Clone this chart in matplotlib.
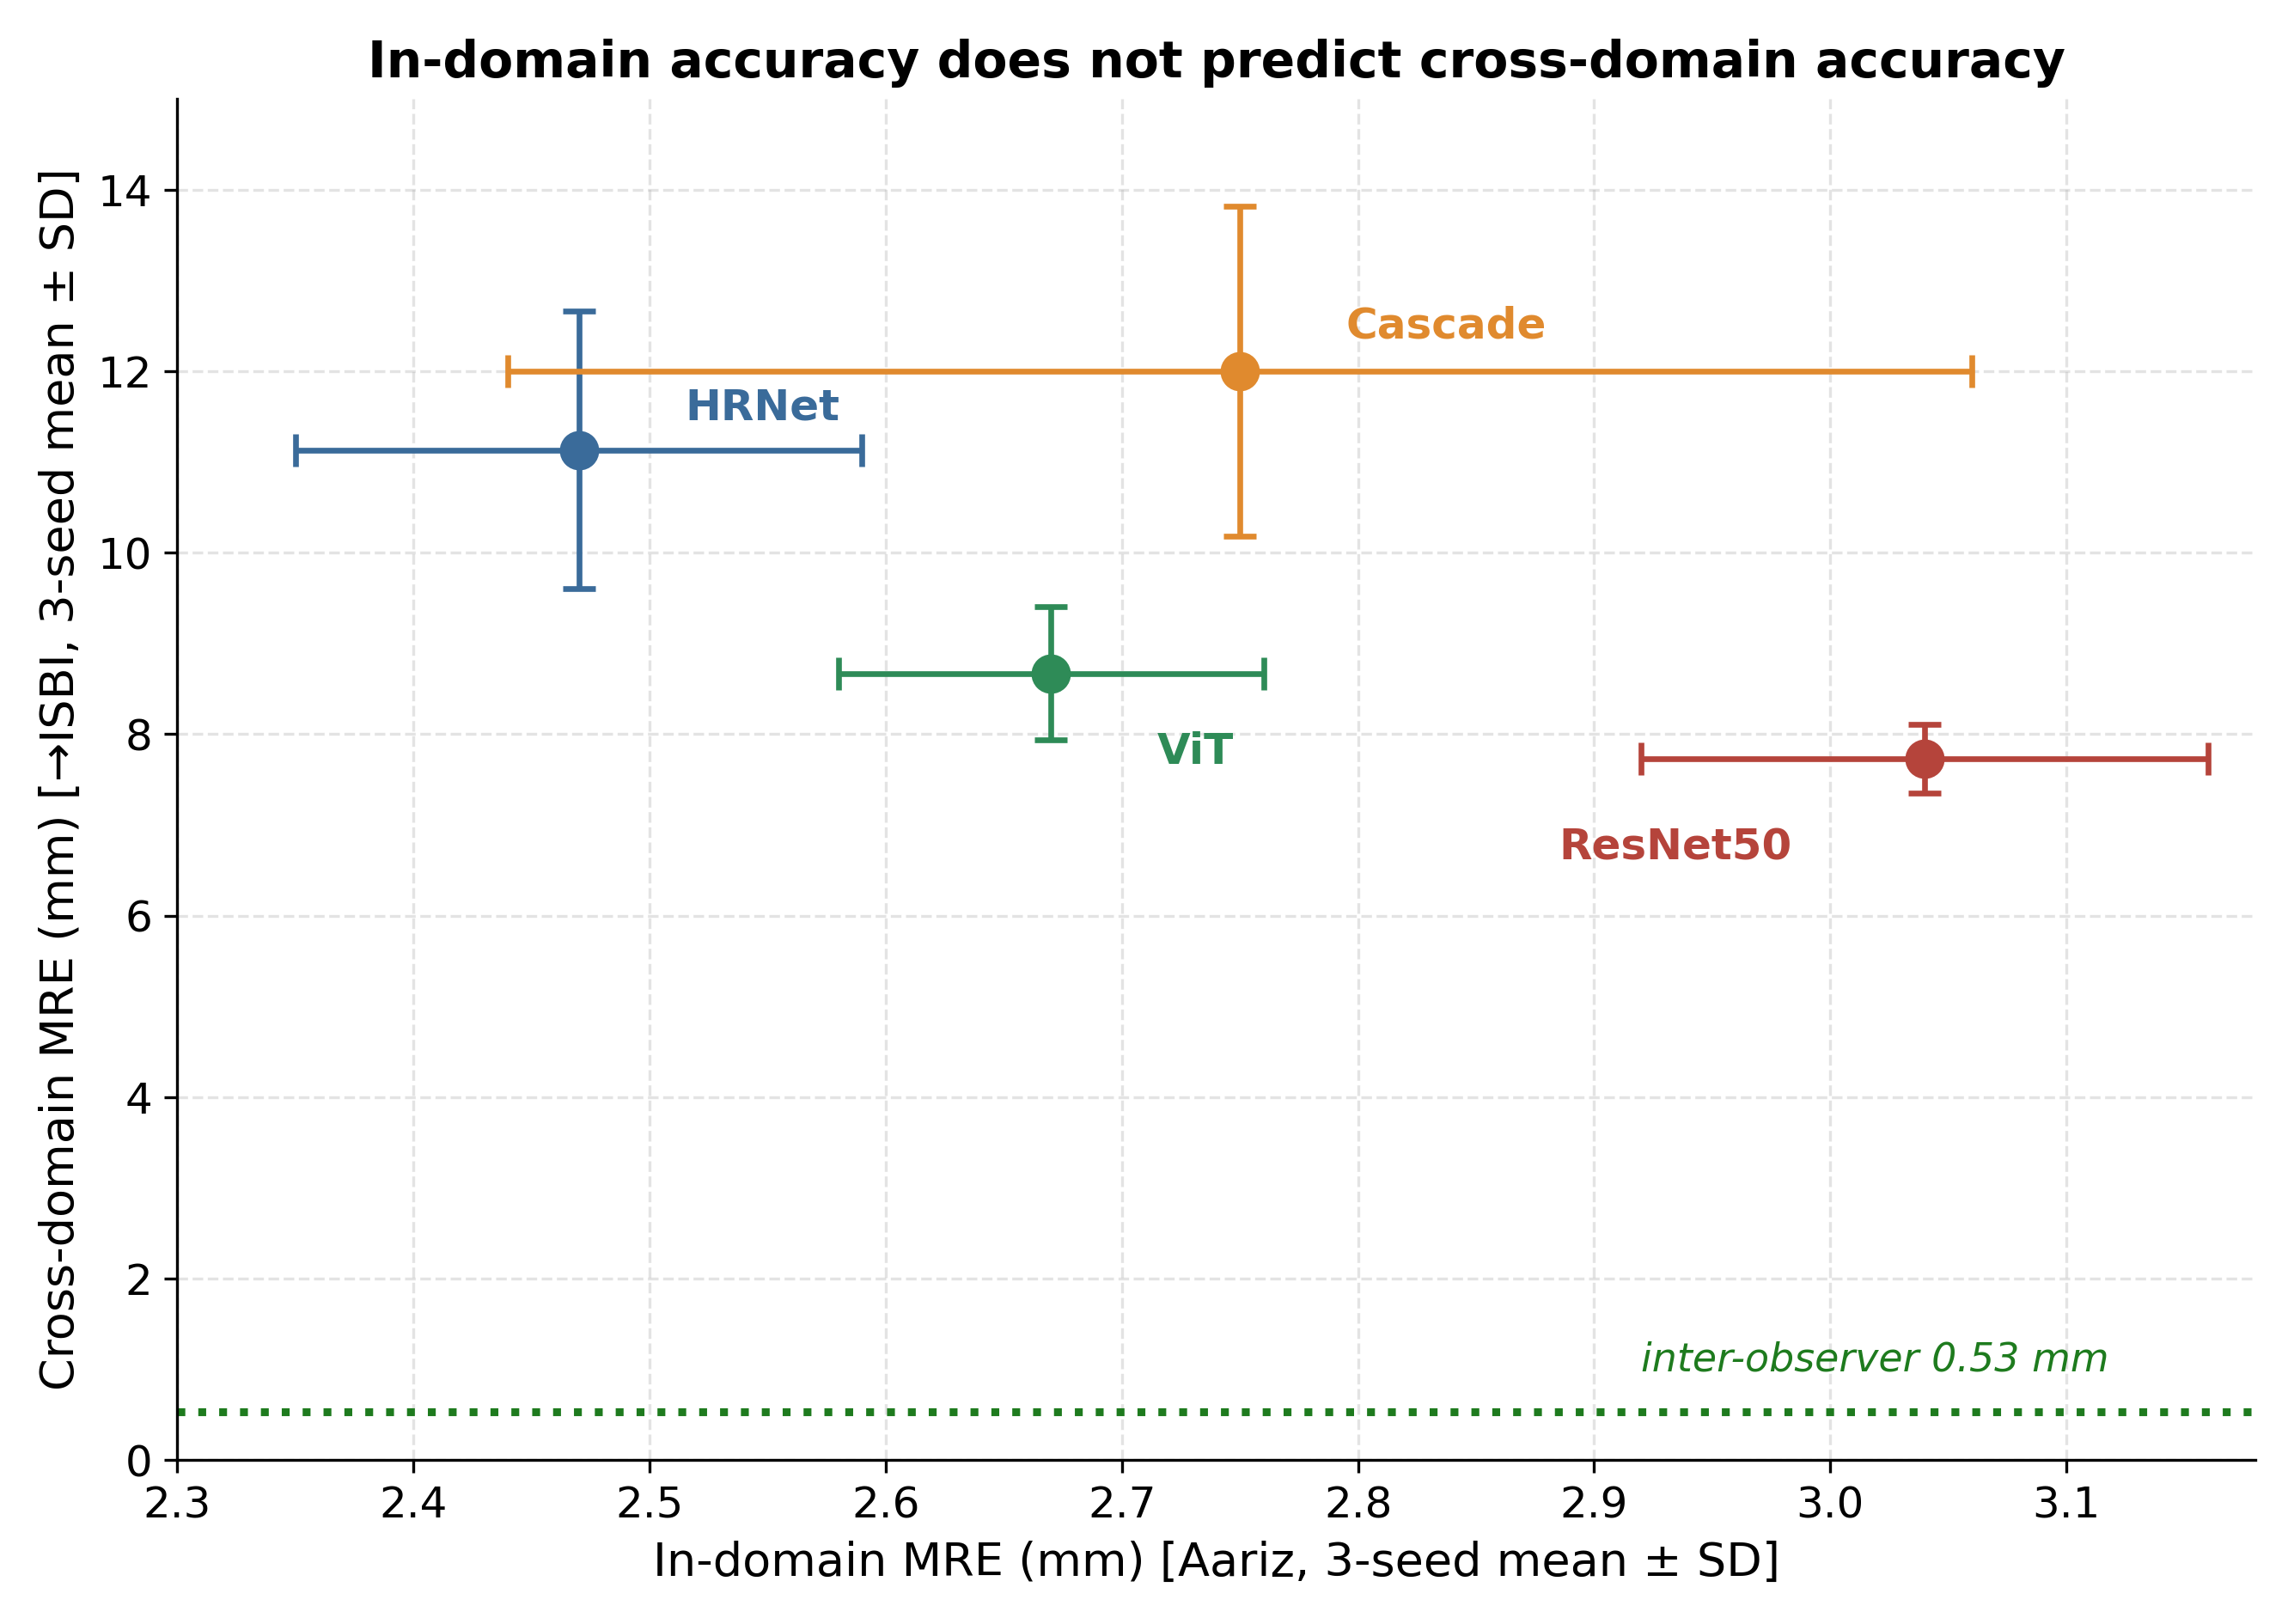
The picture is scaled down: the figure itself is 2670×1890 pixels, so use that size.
import matplotlib
matplotlib.use("Agg")
import matplotlib.pyplot as plt

models = ["HRNet", "Cascade", "ViT", "ResNet50"]
in_mre = [2.47, 2.75, 2.67, 3.04]
in_sd = [0.12, 0.31, 0.09, 0.12]
cross_mre = [11.13, 12.00, 8.67, 7.73]
cross_sd = [1.53, 1.82, 0.73, 0.38]
colors = ["#3a6b9a", "#e08a2e", "#2e8b57", "#b5443b"]
label_pos = [(2.515, 11.6), (2.795, 12.5), (2.715, 7.8), (2.885, 6.75)]
inter_obs = 0.53

fig, ax = plt.subplots(figsize=(8.9, 6.3), dpi=300)
for m, x, xe, y, ye, c, lp in zip(models, in_mre, in_sd, cross_mre, cross_sd, colors, label_pos):
    ax.errorbar(x, y, xerr=xe, yerr=ye, fmt="o", color=c, ms=10, capsize=4.5, elinewidth=1.6, capthick=1.6)
    ax.text(lp[0], lp[1], m, color=c, fontsize=12, fontweight="bold", va="center", ha="left")
ax.axhline(inter_obs, color="#1e7b1e", ls=":", lw=2.2)
ax.text(2.92, 1.1, f"inter-observer {inter_obs} mm", color="#1e7b1e", fontsize=11, style="italic", va="center")
ax.set_xlim(2.3, 3.18)
ax.set_ylim(0, 15)
ax.grid(True, ls="--", alpha=0.35)
ax.spines["top"].set_visible(False)
ax.spines["right"].set_visible(False)
ax.set_xlabel("In-domain MRE (mm) [Aariz, 3-seed mean ± SD]", fontsize=13)
ax.set_ylabel("Cross-domain MRE (mm) [→ISBI, 3-seed mean ± SD]", fontsize=13)
ax.set_title("In-domain accuracy does not predict cross-domain accuracy", fontsize=14, fontweight="bold")
ax.tick_params(labelsize=12)
fig.tight_layout()
fig.savefig("out.png")
